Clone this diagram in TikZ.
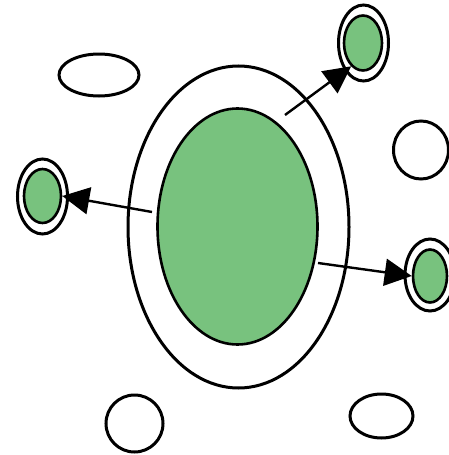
\documentclass[tikz,border=0pt]{standalone}
\usetikzlibrary{shapes.geometric,arrows.meta}
\definecolor{cellgreen}{RGB}{120,194,126}
\tikzset{
  ring/.style={ellipse, draw=black, line width=3pt, fill=white, inner sep=0pt},
  core/.style={ellipse, draw=black, line width=2.6pt, fill=cellgreen, inner sep=0pt},
  arr/.style={line width=2.4pt, -{Triangle[length=27pt,width=27pt]}}
}
\begin{document}
\begin{tikzpicture}[x=1pt,y=-1pt]
\useasboundingbox (0,0) rectangle (448,455);
% big cell
\node[ring, minimum width=221pt, minimum height=322pt] (bigout) at (238.5,227) {};
\node[core, minimum width=160pt, minimum height=236pt] (bigin) at (237.5,226.5) {};
% small cells
\node[ring, minimum width=50pt, minimum height=76pt] (trout) at (363.5,43) {};
\node[core, minimum width=38pt, minimum height=55pt] (trin) at (363,43) {};
\node[ring, minimum width=50pt, minimum height=75pt] (lout) at (42.5,196.5) {};
\node[core, minimum width=37pt, minimum height=54pt] (lin) at (42.5,196) {};
\node[ring, minimum width=50pt, minimum height=72pt] (rout) at (430,275) {};
\node[core, minimum width=34pt, minimum height=53pt] (rin) at (430,276) {};
% empty vesicles
\node[ring, minimum width=80pt, minimum height=42pt] (e1) at (99,75) {};
\node[ring, minimum width=55pt, minimum height=58pt] (e2) at (421,150) {};
\node[ring, minimum width=57pt, minimum height=57pt] (e3) at (134.5,423.5) {};
\node[ring, minimum width=63pt, minimum height=44pt] (e4) at (381.5,416) {};
% arrow tails
\coordinate (t1) at (285,115);
\coordinate (t2) at (152,212);
\coordinate (t3) at (318,263);
\draw[arr] (t1) -- (trin.-117);
\draw[arr] (t2) -- (lin.east);
\draw[arr] (t3) -- (rin.west);
\end{tikzpicture}
\end{document}
